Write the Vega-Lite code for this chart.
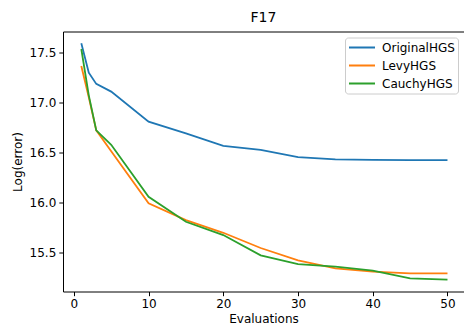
{
  "$schema": "https://vega.github.io/schema/vega-lite/v6.json",
  "autosize": {"type": "none"},
  "padding": {"left": 63, "top": 31.5, "right": 0, "bottom": 37.5},
  "width": 401,
  "height": 260,
  "title": {"text": "F17", "fontSize": 14, "font": "DejaVu Sans", "fontWeight": "normal", "color": "black", "offset": 7, "anchor": "middle"},
  "data": {"values": [
    {"evaluations": 1, "error": 17.59, "series": "OriginalHGS"},
    {"evaluations": 2, "error": 17.296, "series": "OriginalHGS"},
    {"evaluations": 3, "error": 17.184, "series": "OriginalHGS"},
    {"evaluations": 5, "error": 17.107, "series": "OriginalHGS"},
    {"evaluations": 10, "error": 16.807, "series": "OriginalHGS"},
    {"evaluations": 15, "error": 16.69, "series": "OriginalHGS"},
    {"evaluations": 20, "error": 16.565, "series": "OriginalHGS"},
    {"evaluations": 25, "error": 16.525, "series": "OriginalHGS"},
    {"evaluations": 30, "error": 16.452, "series": "OriginalHGS"},
    {"evaluations": 35, "error": 16.43, "series": "OriginalHGS"},
    {"evaluations": 40, "error": 16.425, "series": "OriginalHGS"},
    {"evaluations": 45, "error": 16.423, "series": "OriginalHGS"},
    {"evaluations": 50, "error": 16.422, "series": "OriginalHGS"},
    {"evaluations": 1, "error": 17.363, "series": "LevyHGS"},
    {"evaluations": 2, "error": 17.05, "series": "LevyHGS"},
    {"evaluations": 3, "error": 16.72, "series": "LevyHGS"},
    {"evaluations": 5, "error": 16.51, "series": "LevyHGS"},
    {"evaluations": 10, "error": 15.99, "series": "LevyHGS"},
    {"evaluations": 15, "error": 15.823, "series": "LevyHGS"},
    {"evaluations": 20, "error": 15.696, "series": "LevyHGS"},
    {"evaluations": 25, "error": 15.544, "series": "LevyHGS"},
    {"evaluations": 30, "error": 15.42, "series": "LevyHGS"},
    {"evaluations": 35, "error": 15.34, "series": "LevyHGS"},
    {"evaluations": 40, "error": 15.307, "series": "LevyHGS"},
    {"evaluations": 45, "error": 15.29, "series": "LevyHGS"},
    {"evaluations": 50, "error": 15.29, "series": "LevyHGS"},
    {"evaluations": 1, "error": 17.533, "series": "CauchyHGS"},
    {"evaluations": 2, "error": 17.07, "series": "CauchyHGS"},
    {"evaluations": 3, "error": 16.72, "series": "CauchyHGS"},
    {"evaluations": 5, "error": 16.575, "series": "CauchyHGS"},
    {"evaluations": 10, "error": 16.056, "series": "CauchyHGS"},
    {"evaluations": 15, "error": 15.806, "series": "CauchyHGS"},
    {"evaluations": 20, "error": 15.673, "series": "CauchyHGS"},
    {"evaluations": 25, "error": 15.47, "series": "CauchyHGS"},
    {"evaluations": 30, "error": 15.383, "series": "CauchyHGS"},
    {"evaluations": 35, "error": 15.357, "series": "CauchyHGS"},
    {"evaluations": 40, "error": 15.317, "series": "CauchyHGS"},
    {"evaluations": 45, "error": 15.24, "series": "CauchyHGS"},
    {"evaluations": 50, "error": 15.227, "series": "CauchyHGS"}
  ]},
  "mark": {"type": "line", "strokeWidth": 1.8, "clip": true},
  "encoding": {
    "x": {
      "field": "evaluations", "type": "quantitative",
      "scale": {"domain": [-1.45, 52.21], "nice": false, "zero": false},
      "axis": {"title": "Evaluations", "values": [0, 10, 20, 30, 40, 50], "format": "d", "titlePadding": 4}
    },
    "y": {
      "field": "error", "type": "quantitative",
      "scale": {"domain": [15.109, 17.708], "nice": false, "zero": false},
      "axis": {"title": "Log(error)", "values": [15.5, 16.0, 16.5, 17.0, 17.5], "format": ".1f", "titlePadding": 5}
    },
    "color": {
      "field": "series", "type": "nominal",
      "scale": {"domain": ["OriginalHGS", "LevyHGS", "CauchyHGS"], "range": ["#1f77b4", "#ff7f0e", "#2ca02c"]},
      "legend": {
        "title": null, "orient": "top-right", "offset": 6,
        "symbolType": "stroke", "symbolSize": 676, "symbolStrokeWidth": 1.8,
        "clipHeight": 14,
        "symbolOffset": 0, "labelOffset": 6,
        "labelFontSize": 12, "labelFont": "DejaVu Sans", "labelColor": "black",
        "rowPadding": 4, "padding": 3,
        "strokeColor": "#cccccc", "fillColor": "rgba(255,255,255,0.8)", "cornerRadius": 3
      }
    },
    "order": {"field": "evaluations", "type": "quantitative"}
  },
  "config": {
    "view": {"stroke": "black", "strokeWidth": 1},
    "font": "DejaVu Sans",
    "axis": {
      "grid": false, "domain": false,
      "tickColor": "black", "tickSize": 4.2, "tickWidth": 1,
      "labelPadding": 3, "labelFontSize": 12, "labelColor": "black", "labelFont": "DejaVu Sans",
      "titleFontSize": 12, "titleFontWeight": "normal", "titleColor": "black", "titleFont": "DejaVu Sans"
    }
  }
}
